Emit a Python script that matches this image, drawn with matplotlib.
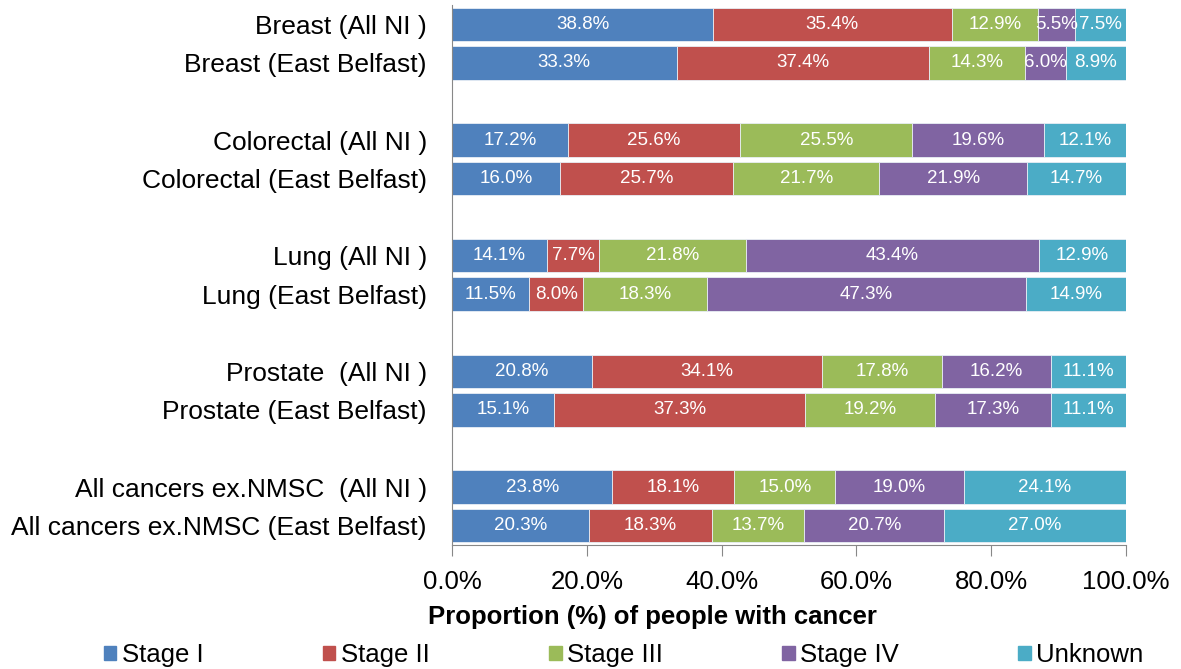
import numpy as np
import matplotlib
matplotlib.use("Agg")
import matplotlib.pyplot as plt
from matplotlib.patches import Patch

plt.rcParams['font.family'] = ['Liberation Sans', 'DejaVu Sans']

# data (percentages per stage)
categories = [
    'Breast (All NI )', 'Breast (East Belfast)',
    'Colorectal (All NI )', 'Colorectal (East Belfast)',
    'Lung (All NI )', 'Lung (East Belfast)',
    'Prostate  (All NI )', 'Prostate (East Belfast)',
    'All cancers ex.NMSC  (All NI )', 'All cancers ex.NMSC (East Belfast)',
]
stages = ['Stage I', 'Stage II', 'Stage III', 'Stage IV', 'Unknown']
stage1 = [38.8, 33.3, 17.2, 16.0, 14.1, 11.5, 20.8, 15.1, 23.8, 20.3]
stage2 = [35.4, 37.4, 25.6, 25.7, 7.7, 8.0, 34.1, 37.3, 18.1, 18.3]
stage3 = [12.9, 14.3, 25.5, 21.7, 21.8, 18.3, 17.8, 19.2, 15.0, 13.7]
stage4 = [5.5, 6.0, 19.6, 21.9, 43.4, 47.3, 16.2, 17.3, 19.0, 20.7]
unknown = [7.5, 8.9, 12.1, 14.7, 12.9, 14.9, 11.1, 11.1, 24.1, 27.0]
colors = ['#4F81BD', '#C0504D', '#9BBB59', '#8064A2', '#4BACC6']

vals = np.array([stage1, stage2, stage3, stage4, unknown])
frac = vals / vals.sum(axis=0)  # 100% stacked

# two bars per group, one empty slot between groups
ypos = np.array([g * 3 + k for g in range(5) for k in range(2)])

fig = plt.figure(figsize=(11.81, 6.69), dpi=100)
ax = fig.add_axes([0.3827, 0.1854, 0.9534 - 0.3827, 0.9925 - 0.1854])

left = np.zeros(len(categories))
for i, (name, col) in enumerate(zip(stages, colors)):
    ax.barh(ypos, frac[i], left=left, height=0.87, color=col,
            edgecolor='#e8eef5', linewidth=0.6, label=name)
    for y, l, w, v in zip(ypos, left, frac[i], vals[i]):
        ax.text(l + w / 2, y, f'{v:.1f}%', ha='center', va='center',
                color='white', fontsize=13.5)
    left += frac[i]

ax.set_ylim(13.5, -0.5)
ax.set_xlim(0, 1)
ax.set_yticks(ypos)
ax.set_yticklabels(categories, fontsize=19)
ax.tick_params(axis='y', length=0, pad=18)
ax.set_xticks(np.arange(0, 1.01, 0.2))
ax.set_xticklabels([f'{t * 100:.1f}%' for t in np.arange(0, 1.01, 0.2)], fontsize=18.5)
ax.tick_params(axis='x', length=8, color='#888888', pad=10)
for s in ['top', 'right']:
    ax.spines[s].set_visible(False)
for s in ['left', 'bottom']:
    ax.spines[s].set_color('#888888')

fig.text(652 / 1181, 1 - 617 / 669, 'Proportion (%) of people with cancer',
         ha='center', va='center', fontsize=18.5, fontweight='bold')

handles = [Patch(color=c, label=s) for s, c in zip(stages, colors)]
fig.legend(handles=handles, loc='lower center', bbox_to_anchor=(0.528, -0.032),
           ncol=5, frameon=False, fontsize=18.5, handlelength=0.5,
           handleheight=0.5, handletextpad=0.2, columnspacing=4.65)

fig.savefig('out.png', dpi=100)
